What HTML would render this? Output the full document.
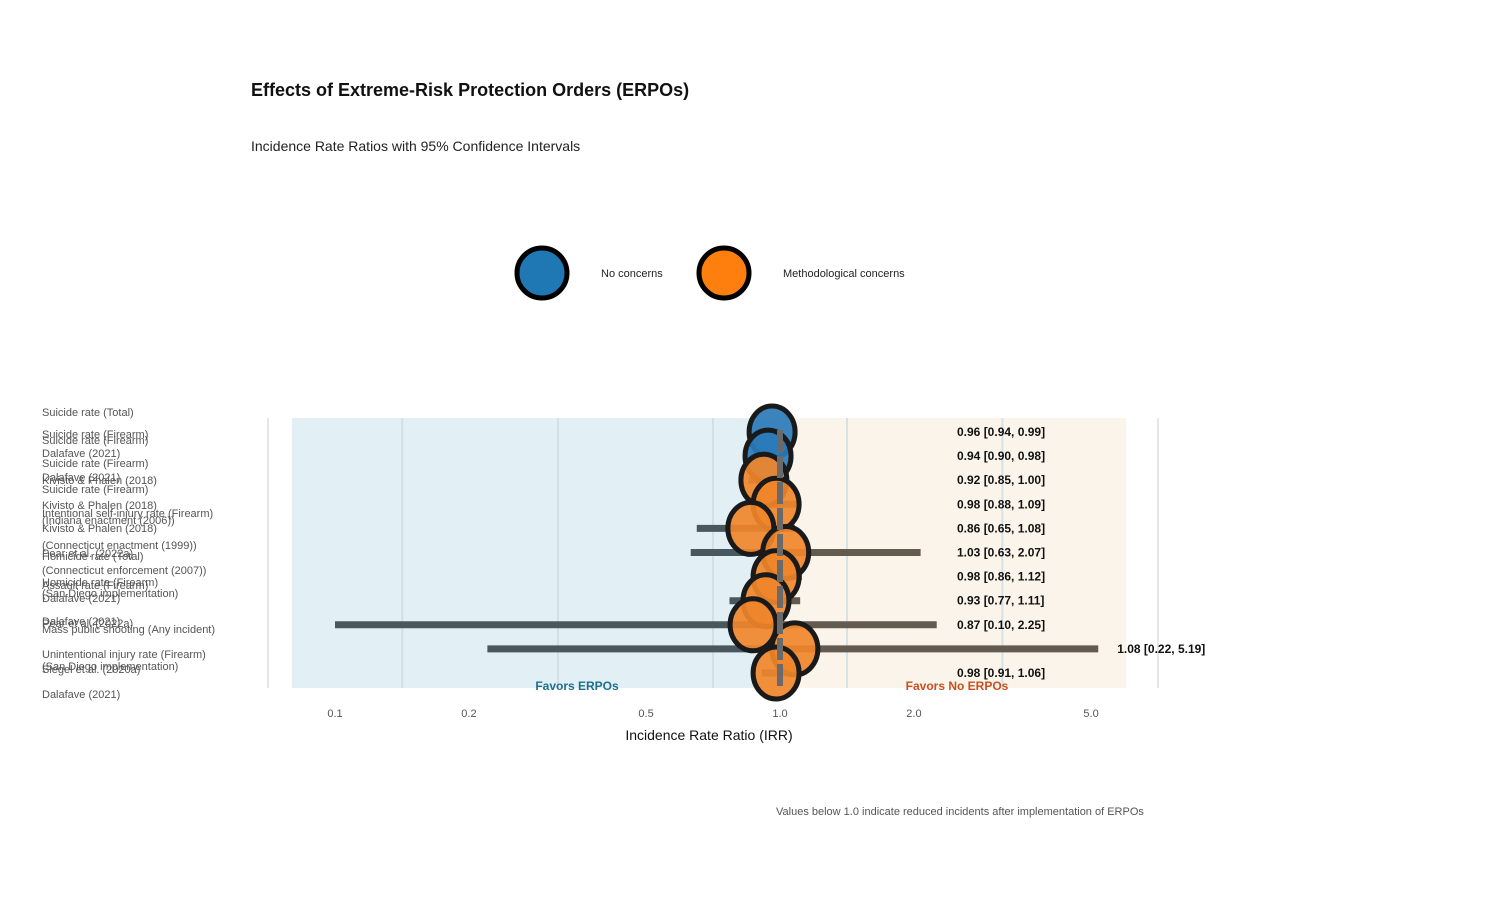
<!DOCTYPE html>
<html><head><meta charset="utf-8"><style>
html,body{margin:0;padding:0;background:#fff;}
svg{display:block;font-family:"Liberation Sans",sans-serif;}
</style></head><body>
<svg id="chart" width="1500" height="900" viewBox="0 0 1500 900" xmlns="http://www.w3.org/2000/svg">
<text x="251" y="96" font-size="18" font-weight="bold" fill="#111">Effects of Extreme-Risk Protection Orders (ERPOs)</text>
<text x="251" y="151" font-size="14" fill="#222">Incidence Rate Ratios with 95% Confidence Intervals</text>
<g>
<circle cx="542" cy="273" r="25" fill="#1f77b4" stroke="#000" stroke-width="5"/>
<text x="601" y="277" font-size="11" fill="#222">No concerns</text>
<circle cx="724" cy="273" r="25" fill="#ff7f0e" stroke="#000" stroke-width="5"/>
<text x="783" y="277" font-size="11" fill="#222">Methodological concerns</text>
</g>
<g id="bg"></g><g id="grid"></g><g id="bars"></g><g id="marks"></g><g id="ref"></g><g id="vals"></g><g id="ylabels"></g><g id="ticks"></g>
<text x="577" y="690" font-size="12" font-weight="bold" fill="#1f6f8b" text-anchor="middle">Favors ERPOs</text>
<text x="957" y="690" font-size="12" font-weight="bold" fill="#c8501e" text-anchor="middle">Favors No ERPOs</text>
<text x="709" y="740" font-size="14" fill="#111" text-anchor="middle">Incidence Rate Ratio (IRR)</text>
<text x="776" y="815" font-size="11" fill="#555">Values below 1.0 indicate reduced incidents after implementation of ERPOs</text>
</svg>
<script>
const estimates=[0.96,0.94,0.92,0.98,0.86,1.03,0.98,0.93,0.87,1.08,0.98];
const lowers=[0.94,0.90,0.85,0.88,0.65,0.63,0.86,0.77,0.10,0.22,0.91];
const uppers=[0.99,0.98,1.00,1.09,1.08,2.07,1.12,1.11,2.25,5.19,1.06];
const concerns=[0,0,1,1,1,1,1,1,1,1,1];
const tickValues=[0.1,0.2,0.5,1.0,2.0,5.0];
const tickLabels=["0.1","0.2","0.5","1.0","2.0","5.0"];
const yLabels=[["Suicide rate (Total)",412],["Suicide rate (Firearm)",434],["Suicide rate (Firearm)",440],["Dalafave (2021)",453],["Suicide rate (Firearm)",463],["Dalafave (2021)",477],["Kivisto & Phalen (2018)",480],["Suicide rate (Firearm)",489],["Kivisto & Phalen (2018)",505],["Intentional self-injury rate (Firearm)",513],["(Indiana enactment (2006))",520],["Kivisto & Phalen (2018)",528],["(Connecticut enactment (1999))",545],["Pear et al. (2022a)",553],["Homicide rate (Total)",556],["(Connecticut enforcement (2007))",570],["Homicide rate (Firearm)",582],["Assault rate (Firearm)",585],["(San Diego implementation)",593],["Dalafave (2021)",598],["Dalafave (2021)",621],["Pear et al. (2022a)",623],["Mass public shooting (Any incident)",629],["Unintentional injury rate (Firearm)",654],["(San Diego implementation)",666],["Siegel et al. (2020a)",669],["Dalafave (2021)",694]];
const NS="http://www.w3.org/2000/svg";
const xs=v=>780+445*Math.log10(v);
const ys=i=>432+24.1*i;
function mk(g,t,a){const e=document.createElementNS(NS,t);for(const k in a)e.setAttribute(k,a[k]);document.getElementById(g).appendChild(e);return e;}
let e;
e=mk('bg','rect',{x:xs(0.08),y:418,width:xs(1)-xs(0.08),height:270,fill:'#e2f0f6'});


e=mk('bg','rect',{x:xs(1),y:418,width:xs(6)-xs(1),height:270,fill:'#fbf4ea'});


[268,1158].forEach(x=>{e=mk('grid','line',{x1:x,x2:x,y1:418,y2:688,stroke:'#e6e6e6','stroke-width':2});

});
[0.1416,0.317,0.707,1.414,3.16].forEach(v=>{e=mk('grid','line',{x1:xs(v),x2:xs(v),y1:418,y2:688,stroke:'#cfdde2','stroke-width':2,opacity:0.8});

});
estimates.forEach((v,i)=>{
 const y=ys(i);
 e=mk('bars','line',{x1:xs(lowers[i]),x2:xs(Math.min(1,uppers[i])),y1:y,y2:y,stroke:'#48585e','stroke-width':7});
 
 
 if(uppers[i]>1){e=mk('bars','line',{x1:xs(1),x2:xs(uppers[i]),y1:y,y2:y,stroke:'#635a50','stroke-width':7});
 
 }
 e=mk('marks','ellipse',{cx:xs(v),cy:y,rx:23,ry:26,fill:concerns[i]?'#f0862a':'#2a7ab8','fill-opacity':0.92,stroke:'#1a1a1a','stroke-width':5});
 
 
 const tx=Math.max(957,xs(uppers[i])+19);
 e=mk('vals','text',{x:tx,y:y+4,'font-size':12,'font-weight':'bold',fill:'#111'});
 e.textContent=v.toFixed(2)+' ['+lowers[i].toFixed(2)+', '+uppers[i].toFixed(2)+']';
 
 
});
e=mk('ref','line',{x1:780,x2:780,y1:430,y2:690,stroke:'#6a6a6a','stroke-width':6,'stroke-dasharray':'22 4'});


yLabels.forEach(([t,y])=>{e=mk('ylabels','text',{x:42,y:y+4,'font-size':11,fill:'#555'});e.textContent=t;

});
tickValues.forEach((v,i)=>{e=mk('ticks','text',{x:xs(v),y:717,'font-size':11,fill:'#555','text-anchor':'middle'});e.textContent=tickLabels[i];

});
</script>
</body></html>
